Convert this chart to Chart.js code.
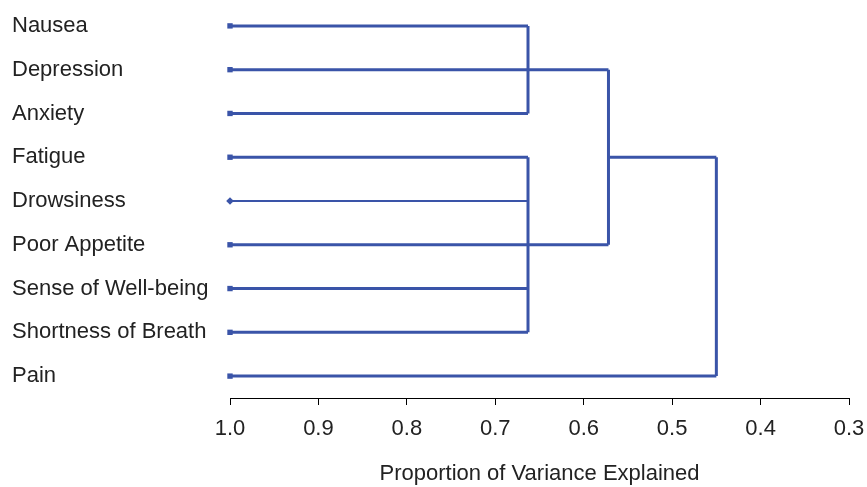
<!DOCTYPE html>
<html>
<head>
<meta charset="utf-8">
<script src="https://cdn.jsdelivr.net/npm/chart.js@4.4.0/dist/chart.umd.min.js"></script>
<style>
  html, body { margin: 0; padding: 0; background: #fff; }
  #wrap { width: 867px; height: 487px; }
</style>
</head>
<body>
<div id="wrap"><canvas id="dendro"></canvas></div>
<script>
// Sintomas (folhas), de cima para baixo
const symptoms = ['Nausea', 'Depression', 'Anxiety', 'Fatigue', 'Drowsiness',
  'Poor Appetite', 'Sense of Well-being', 'Shortness of Breath', 'Pain'];
// Onde termina a linha horizontal de cada folha
const leafJoin = [0.663, 0.572, 0.663, 0.663, 0.663, 0.572, 0.663, 0.663, 0.45];
// Barras verticais de junção: altura, linha inicial, linha final
const mergeHeight = [0.663, 0.663, 0.572, 0.45];
const mergeTop = [0, 3, 1, 3];
const mergeBottom = [2, 7, 5, 8];
// Ligação entre grupos
const bridgeFrom = [0.572];
const bridgeTo = [0.45];
const bridgeRow = [3];
// Marcas do eixo x
const xTicks = [1.0, 0.9, 0.8, 0.7, 0.6, 0.5, 0.4, 0.3];

const azul = 'rgb(58, 84, 168)';
const datasets = [];

symptoms.forEach(function (nome, i) {
  datasets.push({
    label: nome,
    data: [{ x: 1.0, y: i }, { x: leafJoin[i], y: i }],
    borderWidth: nome === 'Drowsiness' ? 2 : 3,
    pointRadius: [3.8, 0],
    pointStyle: nome === 'Drowsiness' ? 'rectRot' : 'rect'
  });
});

mergeHeight.forEach(function (h, k) {
  datasets.push({
    label: 'merge' + k,
    data: [{ x: h, y: mergeTop[k] }, { x: h, y: mergeBottom[k] }],
    borderWidth: 3,
    pointRadius: 0
  });
});

bridgeFrom.forEach(function (x0, k) {
  datasets.push({
    label: 'bridge' + k,
    data: [{ x: x0, y: bridgeRow[k] }, { x: bridgeTo[k], y: bridgeRow[k] }],
    borderWidth: 3,
    pointRadius: 0
  });
});

datasets.forEach(function (d) {
  d.showLine = true;
  d.borderColor = azul;
  d.backgroundColor = azul;
  d.pointBorderWidth = 0;
  d.fill = false;
  d.clip = false;
});

const fonteEixo = { family: "'Liberation Sans', Arial, sans-serif", size: 22 };

new Chart(document.getElementById('dendro'), {
  type: 'scatter',
  data: { datasets: datasets },
  options: {
    responsive: true,
    maintainAspectRatio: false,
    animation: false,
    layout: { padding: { top: 1, left: 12, right: 18, bottom: 0 } },
    plugins: { legend: { display: false }, tooltip: { enabled: false } },
    scales: {
      x: {
        type: 'linear',
        reverse: true,
        min: 0.3,
        max: 1.0,
        afterBuildTicks: function (s) { s.ticks = xTicks.map(function (v) { return { value: v }; }); },
        afterFit: function (s) { s.height = 89; s.paddingLeft = 0; s.paddingRight = 0; },
        ticks: {
          color: '#222',
          font: fonteEixo,
          padding: 11,
          maxRotation: 0,
          callback: function (v) { return Number(v).toFixed(1); }
        },
        grid: { drawOnChartArea: false, drawTicks: true, tickLength: 7, color: '#000', lineWidth: 1 },
        border: { display: true, color: '#000', width: 1 },
        title: {
          display: true,
          text: 'Proportion of Variance Explained',
          color: '#222',
          font: fonteEixo,
          padding: { top: 0, bottom: 0 }
        }
      },
      y: {
        type: 'linear',
        reverse: true,
        min: -0.5,
        max: 8.5,
        afterBuildTicks: function (s) { s.ticks = symptoms.map(function (n, i) { return { value: i }; }); },
        afterFit: function (s) { s.width = 218; s.paddingTop = 0; s.paddingBottom = 0; },
        ticks: {
          color: '#222',
          crossAlign: 'far',
          autoSkip: false,
          font: { family: "'Liberation Sans', Arial, sans-serif", size: 22 },
          callback: function (v) { return symptoms[v]; }
        },
        grid: { display: false },
        border: { display: false }
      }
    }
  }
});
</script>
</body>
</html>
